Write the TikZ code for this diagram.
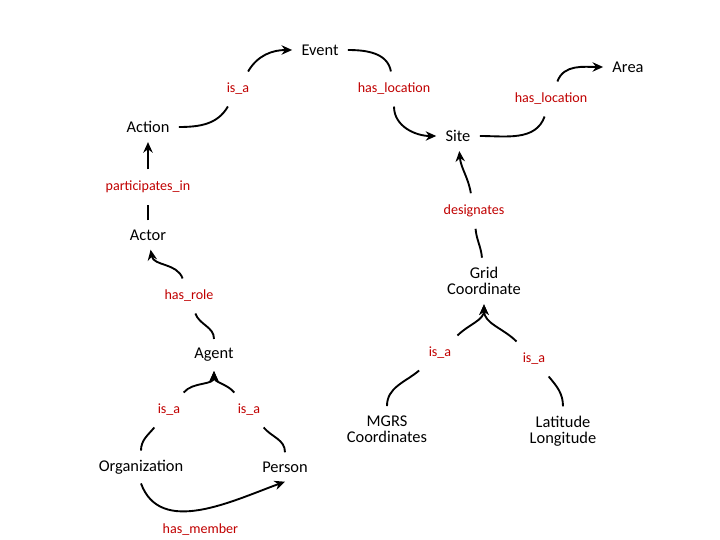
\documentclass[tikz,border=0pt]{standalone}
\usepackage{fontspec}
\setmainfont{Carlito}
\usetikzlibrary{arrows.meta, positioning}
\definecolor{relred}{RGB}{192,0,0}

\begin{document}
\begin{tikzpicture}[x=0.03cm, y=-0.03cm,
    concept/.style={font=\fontsize{14}{16}\selectfont, align=center, inner sep=3pt, outer sep=5pt},
    rel/.style={font=\fontsize{12}{14}\selectfont, text=relred, inner sep=4pt, outer sep=6pt},
    link/.style={line width=1.6pt},
    arrow/.style={link, -{Stealth[length=9pt, width=8pt]}}
]
    \useasboundingbox (0,0) rectangle (720,540);

    % concepts
    \node [concept] (event) at (320,50) {Event};
    \node [concept] (area) at (628,67) {Area};
    \node [concept] (action) at (148,127) {Action};
    \node [concept] (site) at (458,136) {Site};
    \node [concept] (actor) at (148,235) {Actor};
    \node [concept] (grid) at (484,281) {Grid\\[-2pt]Coordinate};
    \node [concept] (agent) at (214,355) {Agent};
    \node [concept] (mgrs) at (387,429) {MGRS\\[-2pt]Coordinates};
    \node [concept] (latlon) at (563,431) {Latitude\\[-2pt]Longitude};
    \node [concept] (org) at (141,467) {Organization};
    \node [concept] (person) at (285,467) {Person};

    % relations
    \node [rel] (isa1) at (238,89) {is\_a};
    \node [rel] (loc1) at (394,89) {has\_location};
    \node [rel] (loc2) at (551,99) {has\_location};
    \node [rel] (part) at (148,187) {participates\_in};
    \node [rel] (desig) at (474,211) {designates};
    \node [rel] (role) at (189,296) {has\_role};
    \node [rel] (isa2) at (440,353) {is\_a};
    \node [rel] (isa3) at (534,359) {is\_a};
    \node [rel] (isa4) at (169,410) {is\_a};
    \node [rel] (isa5) at (249,410) {is\_a};

    \draw [link] (action) to[out=0, in=-120] (isa1);
    \draw [arrow] (isa1) to[out=60, in=180] (event);
    \draw [link] (event) to[out=0, in=100] (loc1);
    \draw [arrow] (loc1) to[out=-90, in=180] (site);
    \draw [link] (site) to[out=0, in=-110] (loc2);
    \draw [arrow] (loc2) to[out=70, in=180] (area);
    \draw [link] (actor) -- (part);
    \draw [arrow] (part) -- (action);
    \draw [link] (grid) to[out=95, in=-85] (desig);
    \draw [arrow] (desig) to[out=100, in=-85] (site);
    \draw [link] (agent) to[out=90, in=-70] (role);
    \draw [arrow] (role) to[out=110, in=-80] (actor);
    \draw [link] (mgrs) to[out=90, in=-140] (isa2);
    \draw [arrow] (isa2) to[out=45, in=-90] (grid);
    \draw [link] (latlon) to[out=90, in=-50] (isa3);
    \draw [arrow] (isa3) to[out=135, in=-90] (grid);
    \draw [link] (org) to[out=90, in=-130] (isa4);
    \draw [arrow] (isa4) to[out=50, in=-90] (agent);
    \draw [link] (person) to[out=90, in=-50] (isa5);
    \draw [arrow] (isa5) to[out=130, in=-90] (agent);
    \draw [arrow] (org.south) to[out=-70, in=-160] node[rel, below=2pt] (member) {has\_member} (person.south);
\end{tikzpicture}
\end{document}
